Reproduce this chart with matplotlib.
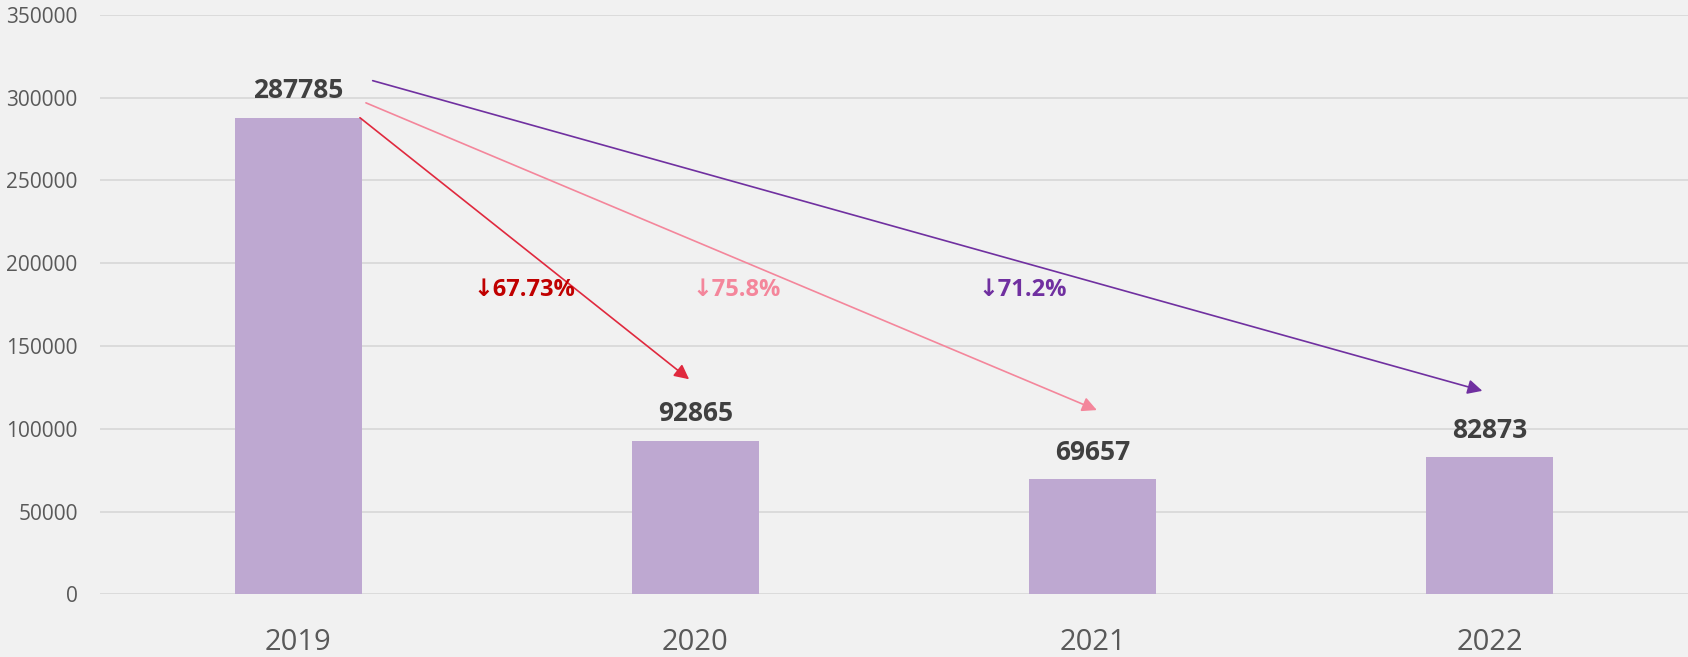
import matplotlib.pyplot as plt
import numpy as np

years = ['2019', '2020', '2021', '2022']
values = [287785, 92865, 69657, 82873]
yticks = [0, 50000, 100000, 150000, 200000, 250000, 300000, 350000]

# drop arrows: from 2019 to target year, label text
drops = [(1, '↓67.73%'), (2, '↓75.8%'), (3, '↓71.2%')]
drop_colors = ['#E0293E', '#F4869B', '#7030A0']
label_colors = ['#C00000', '#F4869B', '#7030A0']

bg = '#F1F1F1'
fig = plt.figure(figsize=(16.88, 6.57), dpi=100, facecolor=bg)
ax = fig.add_axes([0.0592, 0.0954, 0.9408, 0.8822], facecolor=bg)

x = np.arange(len(years))
ax.bar(x, values, width=0.32, color='#BEA8D1', zorder=2)

ax.set_xlim(-0.5, 3.5)
ax.set_ylim(0, 350000)
ax.set_yticks(yticks)
ax.set_yticklabels([str(v) for v in yticks])
ax.set_xticks(x)
ax.set_xticklabels(years)
ax.grid(axis='y', color='#D9D9D9', lw=1.3, zorder=0)
ax.tick_params(axis='y', length=0, pad=16, labelsize=15, labelcolor='#595959')
ax.tick_params(axis='x', length=0, pad=24, labelsize=21, labelcolor='#595959')
for lab in ax.get_xticklabels() + ax.get_yticklabels():
    lab.set_family('Open Sans')
for s in ax.spines.values():
    s.set_visible(False)

for xi, v in zip(x, values):
    ax.annotate(str(v), (xi, v), xytext=(0, 14), textcoords='offset points',
                ha='center', va='baseline', fontsize=19, fontweight='bold',
                color='#404040', family='Open Sans')

# arrow start offsets from the 2019 bar top, end offsets above target bars
starts = [(0.155, 0), (0.170, 9000), (0.187, 22400)]
ends = [(-0.016, 37000), (0.011, 41600), (-0.018, 40000)]
text_x = [0.568, 1.104, 1.825]
for (ti, txt), c, lc, (sx, sy), (ex, ey), tx in zip(drops, drop_colors, label_colors,
                                                     starts, ends, text_x):
    ax.annotate('', xy=(ti + ex, values[ti] + ey), xytext=(0 + sx, values[0] + sy),
                arrowprops=dict(arrowstyle='-|>', color=c, lw=1.2,
                                mutation_scale=22, shrinkA=0, shrinkB=0),
                zorder=3)
    ax.text(tx, 183750, txt, ha='center', va='center', fontsize=17,
            fontweight='bold', color=lc, family=['Open Sans', 'DejaVu Sans'],
            zorder=4)

fig.savefig('out.png', dpi=100, facecolor=bg)
